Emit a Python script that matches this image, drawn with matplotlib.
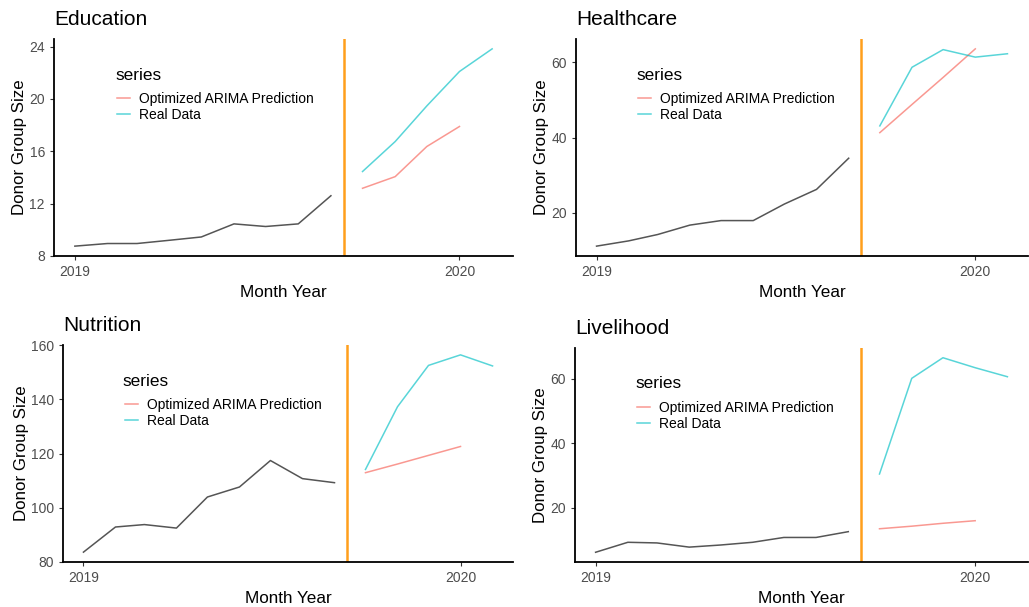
import numpy as np
import matplotlib
matplotlib.use("Agg")
import matplotlib.pyplot as plt
import matplotlib.dates as mdates
from datetime import date

plt.rcParams["font.family"] = ["Liberation Sans", "DejaVu Sans"]

# monthly dates: history Jan-Sep 2019, forecast Oct 2019-Jan 2020, actuals Oct 2019-Feb 2020
hist_dates = [date(2019, m, 1) for m in range(1, 10)]
pred_dates = [date(2019, 10, 1), date(2019, 11, 1), date(2019, 12, 1), date(2020, 1, 1)]
real_dates = pred_dates + [date(2020, 2, 1)]
cutoff = date(2019, 9, 13)

titles = ["Education", "Healthcare", "Nutrition", "Livelihood"]

hist = {
    "Education": [8.75, 8.95, 8.95, 9.2, 9.45, 10.45, 10.25, 10.45, 12.6],
    "Healthcare": [11.1, 12.5, 14.2, 16.7, 17.9, 17.9, 22.3, 26.2, 34.5],
    "Nutrition": [83.5, 92.8, 93.7, 92.4, 103.9, 107.6, 117.4, 110.7, 109.2],
    "Livelihood": [6.2, 9.3, 9.1, 7.8, 8.45, 9.3, 10.8, 10.8, 12.6],
}
pred = {
    "Education": [13.17, 14.06, 16.36, 17.89],
    "Healthcare": [41.3, 48.8, 56.0, 63.6],
    "Nutrition": [112.9, 116.1, 119.3, 122.6],
    "Livelihood": [13.5, 14.3, 15.2, 16.0],
}
real = {
    "Education": [14.45, 16.74, 19.46, 22.09, 23.82],
    "Healthcare": [43.1, 58.7, 63.4, 61.4, 62.3],
    "Nutrition": [114.1, 137.3, 152.6, 156.5, 152.4],
    "Livelihood": [30.5, 60.2, 66.6, 63.5, 60.7],
}
yticks = {
    "Education": [8, 12, 16, 20, 24],
    "Healthcare": [20, 40, 60],
    "Nutrition": [80, 100, 120, 140, 160],
    "Livelihood": [20, 40, 60],
}

W, H = 1029, 607
# panel boxes in pixels: left, right, top, bottom
boxes = [(54, 513, 39, 256), (576, 1028, 39, 256),
         (63, 513, 345, 562), (575, 1028, 348, 562)]

fig = plt.figure(figsize=(W / 100, H / 100), dpi=100)

for name, (l, r, t, b) in zip(titles, boxes):
    ax = fig.add_axes([l / W, (H - b) / H, (r - l) / W, (b - t) / H])
    ax.plot(hist_dates, hist[name], color="#555555", lw=1.1)
    ax.plot(pred_dates, pred[name], color="#F8766D", lw=1.1, alpha=0.75,
            label="Optimized ARIMA Prediction")
    ax.plot(real_dates, real[name], color="#00BFC4", lw=1.1, alpha=0.65,
            label="Real Data")
    ax.axvline(cutoff, color="#FF9F1C", lw=1.8)

    # ggplot-style 5% padding around the data
    allx = mdates.date2num(hist_dates + real_dates)
    ally = np.concatenate([hist[name], pred[name], real[name]])
    dx = (allx.max() - allx.min()) * 0.05
    dy = (ally.max() - ally.min()) * 0.05
    ax.set_xlim(allx.min() - dx, allx.max() + dx)
    ax.set_ylim(ally.min() - dy, ally.max() + dy)

    ax.set_xticks([date(2019, 1, 1), date(2020, 1, 1)])
    ax.set_xticklabels(["2019", "2020"])
    ax.set_yticks(yticks[name])
    ax.tick_params(labelsize=10, labelcolor="#4D4D4D", color="#333333",
                   length=3, width=0.8)

    for side in ("top", "right"):
        ax.spines[side].set_visible(False)
    for side in ("left", "bottom"):
        ax.spines[side].set_linewidth(1.3)
        ax.spines[side].set_color("black")

    ax.set_xlabel("Month Year", fontsize=12.3, labelpad=4)
    ax.set_ylabel("Donor Group Size", fontsize=12.2, labelpad=1.5)
    ax.set_title(name, loc="left", fontsize=15, pad=10)

    # legend title drawn separately so it can sit further above the keys
    h = b - t
    ax.text(0.133, 1 - 36 / h, "series", transform=ax.transAxes,
            fontsize=12.4, va="center", ha="left")
    ax.legend(loc="upper left", bbox_to_anchor=(0.137, 1 - 53 / h),
              frameon=False, fontsize=10, borderpad=0, borderaxespad=0,
              handlelength=0.95, handletextpad=0.65, labelspacing=0.12)

fig.savefig("out.png", dpi=100)
